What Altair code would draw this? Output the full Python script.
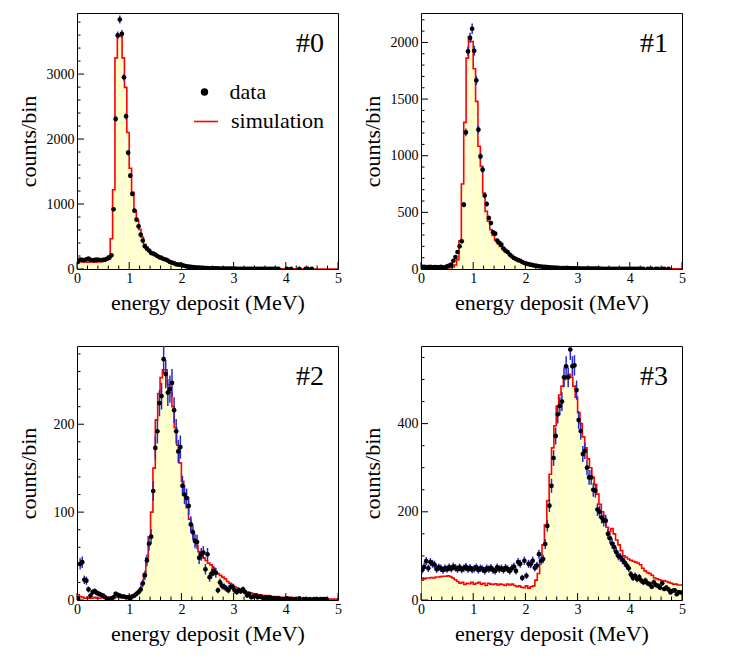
import altair as alt
import pandas as pd

FONT = "'Liberation Serif', 'Times New Roman', Times, serif"
X_MAX = 5.0
DATA_BIN = 0.04

# ---- simulation histograms (110 bins over 0-5 MeV) ----
sim_0 = [118, 112, 108, 112, 105, 108, 110, 106, 110, 112, 115, 122, 138,
         200, 465, 1220, 3250, 3580, 3580, 3250, 2795, 2100, 1550, 1180, 900, 740, 610, 490, 380,
         330, 290, 255, 235, 215, 195, 175, 158, 145, 130, 112, 98, 88, 78, 70, 62, 55, 48, 42,
         37, 33, 29, 26, 23, 21, 19, 17, 15, 14, 12, 11, 10, 9, 8, 8, 7, 7, 6,
         6, 5, 5, 5, 5, 4, 4, 4, 4, 4, 3, 3, 3, 3, 3, 3, 3, 2, 2, 2, 2,
         2, 2, 2, 2, 2, 2, 2, 1, 1, 1, 1, 1, 1, 1, 1, 1, 1, 1, 1, 1, 1, 1]
sim_1 = [10, 8, 6, 5, 5, 5, 5, 5, 5, 6, 8, 10, 12,
         18, 35, 83, 250, 750, 1294, 1862, 2053, 2009, 1768, 1480, 1083, 906, 671, 509, 421,
         347, 297, 255, 225, 200, 180, 160, 140, 125, 110, 98, 88, 78, 70, 62, 55, 48, 42,
         37, 33, 29, 26, 23, 20, 18, 16, 14, 13, 12, 11, 10, 9, 8, 8, 7, 7, 6, 6,
         5, 5, 5, 4, 4, 4, 4, 4, 3, 3, 3, 3, 3, 3, 3, 2, 2, 2, 2, 2, 2,
         2, 2, 2, 2, 2, 2, 1, 1, 1, 1, 1, 1, 1, 1, 1, 1, 1, 1, 1, 1, 1, 1]
sim_2 = [6, 4, 3, 2, 3, 2, 2, 3, 2, 2, 3, 2, 2, 3, 2, 3, 3, 3, 3, 4, 4, 4, 5, 5, 6,
         8, 11, 18, 30, 48, 72, 100, 150, 205, 235, 253, 262, 262, 245, 236, 220, 196, 176,
         156, 135, 120, 105, 92, 80, 70, 62, 55, 50,
         48, 45, 42, 40, 36, 32, 30, 28, 26, 24, 21, 19, 17, 15, 14, 12, 11, 10, 9, 8, 8, 7, 7,
         6, 6, 5, 5, 5, 4, 4, 4, 4, 3, 3, 3, 3, 3, 3, 2, 2, 2, 2, 2, 2, 2, 2, 2, 2, 2,
         1, 1, 1, 1, 1, 1, 1, 1]
sim_3 = [45, 48, 50, 50, 51, 50, 52, 52, 53, 54, 54, 55, 53,
         50, 46, 42, 38, 40, 35, 38, 37, 40, 36, 38, 40, 36, 38, 33, 38, 36, 35, 37, 34, 36,
         35, 33, 36, 34, 36, 33, 30, 32, 29, 28, 32, 27, 30, 32,
         45, 60, 90, 125, 170, 225, 285, 345, 395, 440, 465, 485, 500, 505, 512, 505, 485, 460,
         425, 400, 370, 345, 320, 300, 278, 262, 240, 217, 200, 185, 165, 155, 162, 150, 136,
         125, 112, 100, 97, 93,
         90, 88, 86, 84, 80, 72, 66, 62, 60, 56, 50, 48, 46, 44, 44, 42, 40, 38, 36, 36, 34, 34]

# ---- data (125 bins of 0.04 MeV) ----
data_0 = [110, 145, 140, 135, 150, 160, 140, 135, 140, 145, 140, 135, 140, 145, 160, 175, 210,
          920, 2310, 3595, 3840, 3620, 2950, 2350, 1790, 1437, 1155, 898, 760, 657, 529, 437, 349,
          313, 283, 246, 237, 221, 200, 180, 170, 154, 145, 129, 108, 98, 88, 72, 68, 67, 57,
          50, 40, 36, 32, 28, 25, 22, 20, 18, 16, 15, 13, 12, 11, 10, 9, 9, 8, 7, 7, 6, 6, 5, 5,
          5, 4, 4, 3, 4, 3, 3, 2, 3, 2, 2, 3, 2, 2, 2, 1, 2, 1, 2, 1, 1,
          1, 0, 0, 0, 1, 0, 1, 0, 0, 0, 1, 0, 0, 1, 1, 0, 1, 0, 0, 0, 0, 0, 0, 0, 0, 0, 0, 0, 0]
data_1 = [18, 20, 17, 16, 18, 15, 16, 17, 15, 20, 14, 12,
          24, 30, 38, 73, 106, 150, 200, 244, 568, 1206, 1921, 2040, 2121, 1927, 1665, 1230, 994,
          877, 648, 574, 450, 406, 324, 312, 251, 230, 215, 180, 162, 150, 127, 112, 97, 88, 79,
          73, 62, 53, 47,
          42, 38, 34, 30, 27, 24, 22, 20, 18, 16, 14, 13, 12, 11, 10, 9, 8, 8, 7, 7,
          6, 6, 5, 5, 5, 4, 4, 4, 4, 3, 3, 3, 3, 3, 3, 2, 2, 2, 2, 2, 2, 2, 2, 1, 2, 1, 1, 2, 1, 1,
          1, 1, 1, 2, 1, 1, 0, 1, 1, 1, 0, 1, 1, 0, 1, 1, 0, 1,
          0, 0, 0, 0, 0, 0]
data_2 = [2, 41, 43, 23, 22, 12, 5, 9, 10, 8, 7, 6, 5, 3, 1, 1, 2, 3, 7, 6, 5, 4, 4, 3, 3,
          2, 4, 5, 7, 9, 12, 19, 28, 45, 64, 72, 124, 173, 192,
          224, 232, 274, 257, 236, 240, 247, 216, 192, 169, 174, 130, 120, 116, 107, 86, 77, 67,
          66, 48, 52, 54, 35, 52, 26, 30, 33, 31, 11, 20, 16, 15, 13, 11, 15, 15,
          11, 9, 11, 10, 12, 9, 5, 7, 3, 4, 5, 3, 4, 3, 2, 3, 2, 3, 2, 2, 1, 2, 1, 1, 1,
          2, 1, 1, 0, 1, 0, 2, 0, 1, 1, 0, 1, 0, 1, 1, 0, 1, 1, 1, 1, 0, 0, 0, 0, 0]
data_3 = [68, 75, 88, 72, 86, 82, 80, 70, 74, 72, 68, 72, 70, 74, 71, 76, 73, 70, 74, 69,
          72, 75, 70, 73, 69, 71, 74, 68, 72, 70, 66, 72, 70, 73, 68, 66, 74, 70, 72, 68,
          73, 70, 66, 72, 76,
          66, 86, 82, 50, 89, 55, 82, 81, 89, 73, 78, 104, 89, 93, 127, 168, 214, 259, 322,
          372, 421, 440, 450, 505, 530, 505, 568, 530, 532, 476, 408, 383, 331, 338, 300, 278,
          278, 250, 248, 205, 200, 187, 180, 180, 150, 140, 128, 120, 109, 100, 97, 91, 85, 78, 72,
          58, 50, 55, 47, 52, 44, 40, 44, 38, 36, 30, 40, 34, 32, 28, 38, 25, 28, 24, 17, 21, 22,
          13, 18, 17]

SIMS = [sim_0, sim_1, sim_2, sim_3]
DATAS = [data_0, data_1, data_2, data_3]
LABELS = ["#0", "#1", "#2", "#3"]
Y_MAX = [3940, 2260, 289, 576]
Y_MAJOR = [[0, 1000, 2000, 3000], [0, 500, 1000, 1500, 2000], [0, 100, 200], [0, 200, 400]]
Y_MINOR_STEP = [200, 100, 20, 50]
X_MAJOR = [0, 1, 2, 3, 4, 5]
X_MINOR_STEP = 0.2

FILL = "#ffffcc"
RED = "#ff0000"
BLUE = "#2a2ac8"


def sim_frame(vals):
    w = X_MAX / len(vals)
    xs = [0.0] + [i * w for i in range(len(vals))] + [X_MAX]
    ys = [0] + list(vals) + [vals[-1]]
    return pd.DataFrame({"e": xs, "n": ys, "o": list(range(len(xs)))})


def data_frame(vals):
    rows = [(DATA_BIN * (k + 0.5), v) for k, v in enumerate(vals) if v > 0]
    df = pd.DataFrame(rows, columns=["e", "n"])
    df["lo"] = df["n"] - df["n"] ** 0.5
    df["hi"] = df["n"] + df["n"] ** 0.5
    return df


def minor_ticks(major_step, step, top):
    out = []
    v = 0.0
    while v <= top + 1e-9:
        if abs(v / major_step - round(v / major_step)) > 1e-6:
            out.append(round(v, 4))
        v += step
    return out


def panel(idx, w, h):
    xs = alt.Scale(domain=[0, X_MAX], nice=False, zero=False)
    ys = alt.Scale(domain=[0, Y_MAX[idx]], nice=False)
    xax = alt.Axis(values=X_MAJOR, ticks=False, tickSize=0, domain=False, grid=False,
                   labelFont=FONT, labelFontSize=14, labelColor="black", labelPadding=2,
                   labelFlush=False, labelOverlap=False, format="d",
                   title="energy deposit (MeV)", titleFont=FONT, titleFontSize=22,
                   titleFontWeight="normal", titleColor="black", titleX=w / 2, titleY=40,
                   titleAlign="center", titleBaseline="alphabetic")
    yax = alt.Axis(values=Y_MAJOR[idx], ticks=False, tickSize=0, domain=False, grid=False,
                   labelFont=FONT, labelFontSize=14, labelColor="black", labelPadding=3,
                   labelFlush=False, labelOverlap=False, format="d",
                   title="counts/bin", titleFont=FONT, titleFontSize=22,
                   titleFontWeight="normal", titleColor="black", titleX=-49, titleY=h / 2,
                   titleAngle=270, titleAlign="center", titleBaseline="middle")

    def X(f):
        return alt.X(f, type="quantitative", scale=xs, axis=xax)

    def Y(f):
        return alt.Y(f, type="quantitative", scale=ys, axis=yax)

    sdf = sim_frame(SIMS[idx])
    ddf = data_frame(DATAS[idx])

    area = alt.Chart(sdf).mark_area(interpolate="step-after", color=FILL, clip=True).encode(
        x=X("e"), y=Y("n"), order="o:Q")
    line = alt.Chart(sdf).mark_line(interpolate="step-after", color=RED, strokeWidth=1.6,
                                    clip=True).encode(x=X("e"), y=Y("n"), order="o:Q")
    err = alt.Chart(ddf).mark_rule(color=BLUE, strokeWidth=1.5, clip=True).encode(
        x=X("e"), y=Y("lo"), y2="hi")
    pts = alt.Chart(ddf).mark_circle(size=22, color="black", opacity=1, clip=True).encode(
        x=X("e"), y=Y("n"))

    ymaj = pd.DataFrame({"v": Y_MAJOR[idx]})
    ymin = pd.DataFrame({"v": minor_ticks(Y_MAJOR[idx][1], Y_MINOR_STEP[idx], Y_MAX[idx])})
    xmaj = pd.DataFrame({"v": X_MAJOR})
    xmin = pd.DataFrame({"v": minor_ticks(1, X_MINOR_STEP, X_MAX)})
    tick_y1 = alt.Chart(ymaj).mark_rule(color="black", strokeWidth=1).encode(
        y=Y("v"), x=alt.value(0), x2=alt.value(7))
    tick_y2 = alt.Chart(ymin).mark_rule(color="black", strokeWidth=1).encode(
        y=Y("v"), x=alt.value(0), x2=alt.value(3.5))
    tick_x1 = alt.Chart(xmaj).mark_rule(color="black", strokeWidth=1).encode(
        x=X("v"), y=alt.value(h), y2=alt.value(h - 7))
    tick_x2 = alt.Chart(xmin).mark_rule(color="black", strokeWidth=1).encode(
        x=X("v"), y=alt.value(h), y2=alt.value(h - 3.5))

    lab = alt.Chart(pd.DataFrame({"t": [LABELS[idx]]})).mark_text(
        font=FONT, fontSize=28, color="black", align="right", baseline="alphabetic").encode(
        text="t:N", x=alt.value(w - 14), y=alt.value(39))

    layers = [area, line, err, pts, tick_y1, tick_y2, tick_x1, tick_x2, lab]

    if idx == 0:
        leg = pd.DataFrame({"t": ["data", "simulation"], "k": [0, 1]})
        dot = alt.Chart(leg).transform_filter("datum.k == 0").mark_circle(
            size=55, color="black", opacity=1).encode(x=alt.value(127.5), y=alt.value(79))
        redl = alt.Chart(leg).transform_filter("datum.k == 1").mark_rule(
            color=RED, strokeWidth=1.6).encode(x=alt.value(117), x2=alt.value(141),
                                               y=alt.value(108.5))
        t1 = alt.Chart(leg).transform_filter("datum.k == 0").mark_text(
            font=FONT, fontSize=22, color="black", align="left", baseline="alphabetic").encode(
            text="t:N", x=alt.value(152.5), y=alt.value(86))
        t2 = alt.Chart(leg).transform_filter("datum.k == 1").mark_text(
            font=FONT, fontSize=22, color="black", align="left", baseline="alphabetic").encode(
            text="t:N", x=alt.value(154), y=alt.value(115))
        layers += [dot, redl, t1, t2]

    return alt.layer(*layers).properties(width=w, height=h)


panels = [panel(0, 261, 256), panel(1, 261, 256), panel(2, 261, 254), panel(3, 261, 254)]

chart = alt.concat(
    *panels, columns=2,
    spacing=alt.RowColnumber(row=77, column=83),
    bounds="flush",
).properties(
    padding={"left": 8, "top": 4, "right": 5, "bottom": 5},
    background="white",
).configure_view(stroke="black", strokeWidth=1)

chart.save("out.html", embed_options={"renderer": "svg", "actions": False})
